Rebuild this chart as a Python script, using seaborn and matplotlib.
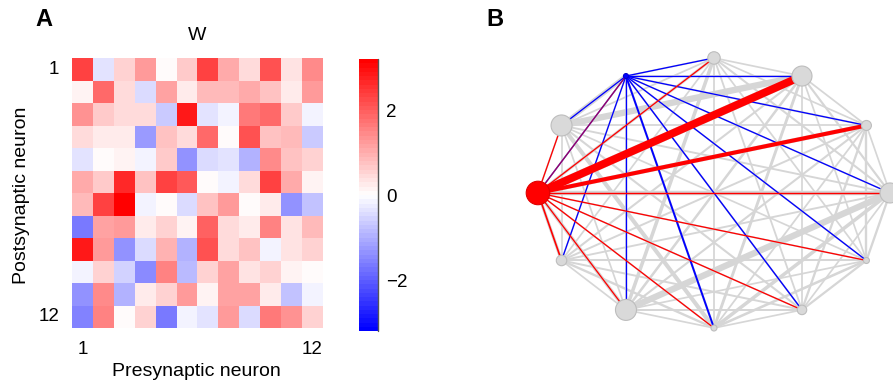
import numpy as np
import pandas as pd
import matplotlib
matplotlib.use("Agg")
import matplotlib.pyplot as plt
import seaborn as sns

# Connectivity matrix W (rows: postsynaptic, columns: presynaptic)
W = [
    [2.33, -0.32, 0.58, 1.20, 0.00, 0.60, 2.40, 1.00, 0.43, 2.10, 0.32, 1.45],
    [0.12, 1.80, 0.45, -0.43, 1.10, 0.20, 0.85, 0.85, 1.00, 0.73, 0.20, 1.20],
    [1.33, 0.63, 0.43, 0.43, -0.63, 2.87, -0.32, -0.12, 1.60, 1.82, 0.63, -0.20],
    [0.43, 0.20, 0.20, -1.28, 0.73, 0.43, 1.80, 0.00, 2.10, 0.73, 0.85, -0.63],
    [-0.32, 0.00, 0.12, -0.20, 0.63, -1.33, -0.43, -0.32, -0.93, 1.45, 0.78, 0.52],
    [1.00, 0.63, 2.60, 0.70, 2.40, 2.07, 0.00, -0.12, 0.43, 2.30, 1.00, 0.12],
    [0.85, 2.40, 3.20, -0.20, 0.00, -0.43, 0.73, 1.20, 0.00, 0.20, -1.33, -0.73],
    [-1.67, 1.10, 1.25, 0.20, 0.52, 0.12, 1.95, 0.40, 0.20, 1.50, 0.32, 0.85],
    [2.87, 1.25, -1.33, -0.43, 0.93, -0.93, 2.10, 0.43, 0.73, -0.12, 0.32, 0.58],
    [-0.12, 0.52, -0.52, -1.45, 1.50, -0.85, 0.58, 1.10, 0.32, 0.58, 0.12, 0.00],
    [-1.40, 1.45, -0.93, 0.20, 0.52, 1.25, 0.12, 1.10, 1.10, 0.20, -0.73, -0.20],
    [-1.60, 1.50, 0.00, 0.52, -1.67, -0.20, -0.32, 1.20, -0.43, 1.65, 1.40, 0.52],
]
neurons = list(range(1, 13))
tick_labels = ["1", "12"]
cbar_ticks = [-2, 0, 2]
w_limit = 3.2

# Node strengths shown as node size in the graph
node_strength = [2.0, 1.0, 2.0, 1.25, 0.5, 2.1, 2.35, 1.05, 2.1, 0.6, 0.95, 0.6]
excitatory_hub = 7   # node whose input edges are shown in red
inhibitory_hub = 5   # node whose input edges are shown in blue

sns.set_theme(style="white")
plt.rcParams["font.family"] = ["Liberation Sans", "DejaVu Sans"]
plt.rcParams["font.size"] = 13
for key in ("text.color", "axes.labelcolor", "xtick.color", "ytick.color"):
    plt.rcParams[key] = "black"

fig = plt.figure(figsize=(8.93, 3.87), dpi=100)
FW, FH = 893.0, 387.0


def rect(l, t, r, b):
    return [l / FW, 1 - b / FH, (r - l) / FW, (b - t) / FH]


# ---------------- Panel A: weight matrix ----------------
ax = fig.add_axes(rect(72, 58, 323, 328))
cax = fig.add_axes(rect(359, 59, 378, 331))
cmap = plt.get_cmap("bwr", 64)
df = pd.DataFrame(W, index=neurons, columns=neurons)
sns.heatmap(df, cmap=cmap, vmin=-w_limit, vmax=w_limit, ax=ax, cbar_ax=cax,
            cbar_kws={"ticks": cbar_ticks})
ax.set_xticks([0.5, 11.5])
ax.set_xticklabels(tick_labels, rotation=0)
ax.set_yticks([0.5, 11.5])
ax.set_yticklabels(tick_labels, rotation=0)
ax.tick_params(length=0, labelsize=13.5, labelcolor="black")
ax.tick_params(axis="x", pad=9)
ax.tick_params(axis="y", pad=9)
ax.set_xlabel("")
ax.set_ylabel("")

cax.tick_params(length=0, labelsize=13.5, pad=6, labelcolor="black")
cax.set_yticklabels(["\u22122", "0", "2"])
cb = ax.collections[0].colorbar
cb.outline.set_visible(False)
cax.plot([1, 1], [0, 1], color="#555555", lw=1.0, transform=cax.transAxes,
         clip_on=False)

fig.text(197 / FW, 1 - 35 / FH, "W", ha="center", va="center", fontsize=14)
fig.text(196 / FW, 1 - 372 / FH, "Presynaptic neuron", ha="center", va="center", fontsize=14)
fig.text(22 / FW, 1 - 195 / FH, "Postsynaptic neuron", ha="center", va="center",
         rotation=90, fontsize=14)
fig.text(44 / FW, 1 - 19 / FH, "A", ha="center", va="center", fontsize=17, fontweight="bold")
fig.text(495 / FW, 1 - 19 / FH, "B", ha="center", va="center", fontsize=17, fontweight="bold")

# ---------------- Panel B: network graph ----------------
gx = fig.add_axes(rect(520, 40, 893, 345))
gx.set_xlim(-1.102, 1.017)
gx.set_ylim(-1.126, 1.133)
gx.axis("off")

n = len(neurons)
theta = np.deg2rad(np.arange(n) * 30.0)
px, py = np.cos(theta), np.sin(theta)
Wm = np.array(W)
PT = 0.72  # points per pixel at 100 dpi


def edge_width(w, base=1.5):
    return (base + 6.5 * (max(0.0, w) / w_limit) ** 3) * PT


# background edges, width by strongest connection between the pair
for i in range(n):
    for j in range(i + 1, n):
        w = max(Wm[i, j], Wm[j, i])
        gx.plot([px[i], px[j]], [py[i], py[j]], color="#d6d6d6",
                lw=edge_width(w, 1.7), solid_capstyle="butt", zorder=1, clip_on=False)

# inputs to the inhibitory hub
b = inhibitory_hub - 1
for j in range(n):
    if j == b:
        continue
    gx.plot([px[b], px[j]], [py[b], py[j]], color="blue",
            lw=edge_width(Wm[b, j], 1.3), solid_capstyle="butt", zorder=2, clip_on=False)

# inputs to the excitatory hub
r = excitatory_hub - 1
for j in range(n):
    if j == r:
        continue
    alpha = 0.6 if j == b else 1.0
    gx.plot([px[r], px[j]], [py[r], py[j]], color="red", alpha=alpha,
            lw=edge_width(Wm[r, j], 1.3), solid_capstyle="butt", zorder=3, clip_on=False)

face = ["#d9d9d9"] * n
edge = ["#bdbdbd"] * n
face[r], edge[r] = "red", "#e00000"
face[b], edge[b] = "blue", "#0000cc"
sizes = [(10.0 * s * PT) ** 2 for s in node_strength]
gx.scatter(px, py, s=sizes, c=face, edgecolors=edge, linewidths=0.8,
           zorder=4, clip_on=False)

fig.savefig("out.png", dpi=100)
